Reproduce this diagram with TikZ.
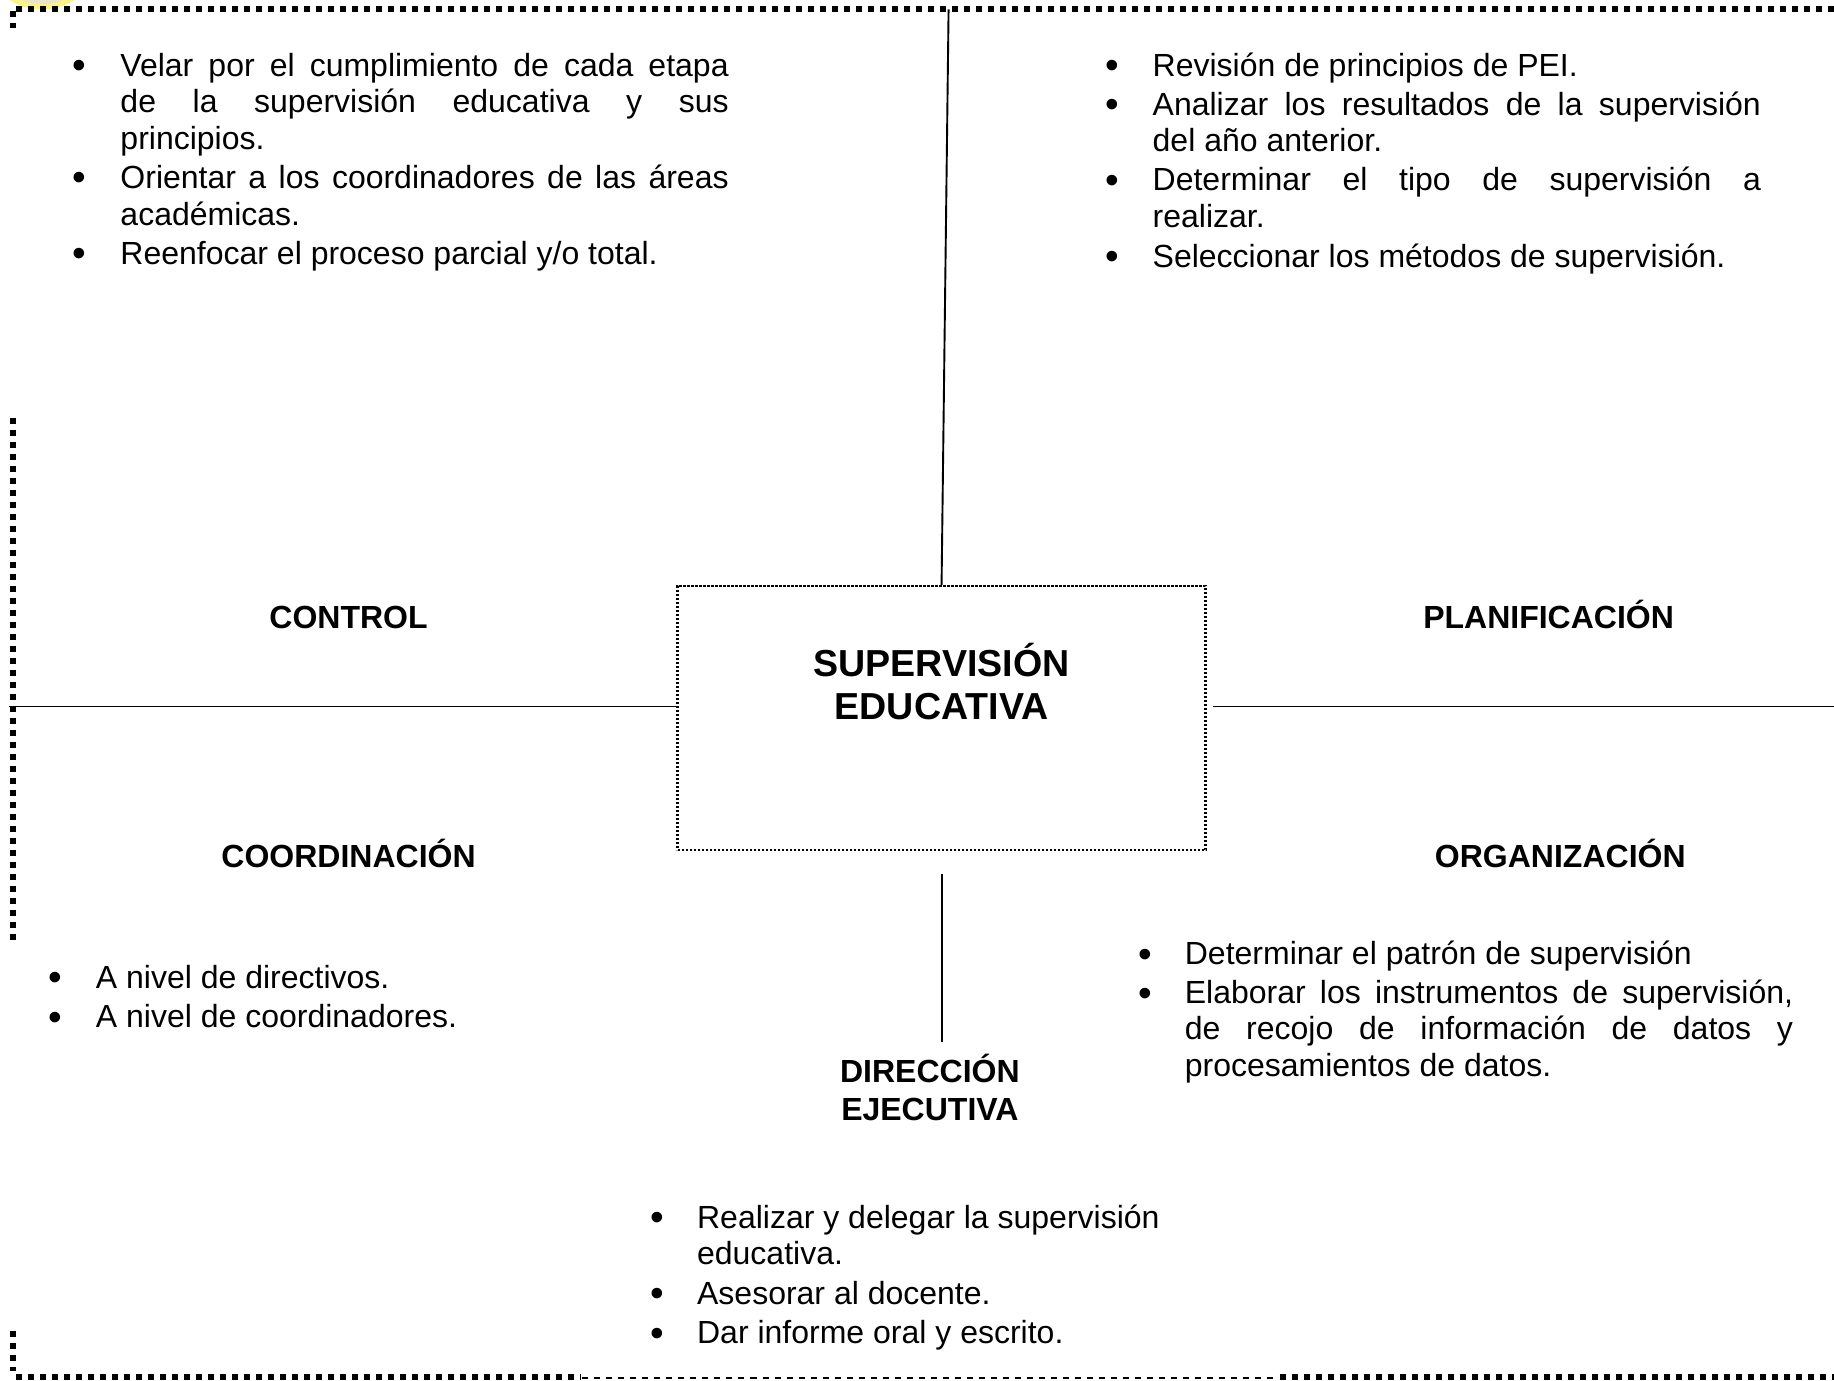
\documentclass[tikz,border=0pt]{standalone}
\usepackage{fontspec}
\setmainfont{Liberation Sans}
\newcommand{\jline}[2]{\makebox[#1][s]{#2}}
\newlength{\colw}
\definecolor{badgeglow}{RGB}{250,245,130}
\definecolor{badgeinner}{RGB}{235,228,200}
\tikzset{
  x=0.5848pt,y=-0.5848pt,
  bodytext/.style={anchor=base west,inner sep=0pt,outer sep=0pt,font=\fontsize{16}{18.4}\selectfont},
  dotmark/.style={anchor=base,inner sep=0pt,outer sep=0pt,yshift=-1.3pt,font=\fontsize{19.5}{19.5}\selectfont},
  heading/.style={anchor=base,inner sep=0pt,outer sep=0pt,align=center,font=\fontsize{16}{18.9}\selectfont\bfseries},
  titletext/.style={anchor=base,inner sep=0pt,outer sep=0pt,align=center,font=\fontsize{18.8}{21.6}\selectfont\bfseries},
  hub/.style={draw=black,line width=1.2pt,dash pattern=on 1.05pt off 0.95pt,inner sep=0pt,minimum width=264pt,minimum height=132pt},
  spoke/.style={draw=black,line width=0.95pt},
  thickdots/.style={draw=black,line width=2.9pt,dash pattern=on 3pt off 3pt},
  thindash/.style={draw=black,line width=1.2pt,dash pattern=on 3pt off 3pt},
}
\begin{document}
\begin{tikzpicture}
\useasboundingbox (0,0) rectangle (1568,1180);
\fill[white] (0,0) rectangle (1568,1180);
% yellow badge cut by the top edge
\begin{scope}
\clip (0,0) rectangle (1568,1180);
\fill[badgeglow] (36,-44) circle (52);
\fill[badgeinner] (36,-44) circle (47.5);
\end{scope}
% dotted frame
\coordinate (tl) at (11,8);
\coordinate (tr) at (1568,8);
\draw[thickdots] (14,8) -- (tr);
\draw[thickdots] (11,9) -- (11,24);
\draw[thickdots] (11,357) -- (11,805);
\draw[thickdots] (11,1138) -- (11,1172);
\draw[thickdots] (14,1177) -- (497,1177);
\draw[thindash] (498,1178) -- (1092,1178);
\draw[thickdots] (1094,1177) -- (1568,1177);
% centre
\node[hub] (centro) at (805,614) {};
\node[titletext] (titulo) at (805,615.5) {SUPERVISIÓN\\EDUCATIVA};
% spokes
\coordinate (arriba) at (811,8);
\coordinate (izq) at (8,604);
\coordinate (der) at (1568,604);
\coordinate (derb) at (1037,604);
\coordinate (abaja) at (805,747);
\coordinate (abajb) at (805,891);
\draw[spoke] (arriba) -- (centro.north);
\draw[spoke] (izq) -- (centro.west |- izq);
\draw[spoke] (derb) -- (der);
\draw[spoke] (abaja) -- (abajb);
% headings
\node[heading] (control) at (298,537) {CONTROL};
\node[heading] (plan) at (1324,537) {PLANIFICACIÓN};
\node[heading] (coord) at (298,742) {COORDINACIÓN};
\node[heading] (orga) at (1334,742) {ORGANIZACIÓN};
\node[heading] (dir) at (795,958) {DIRECCIÓN\\EJECUTIVA};
% control list
\setlength{\colw}{304.1pt}
\node[dotmark] (b1) at (68,65) {•};
\node[bodytext] (c1a) at (103,65) {\jline{\colw}{Velar por el cumplimiento de cada etapa}};
\node[bodytext] (c1b) at (103,96) {\jline{\colw}{de la supervisión educativa y sus}};
\node[bodytext] (c1c) at (103,128) {principios.};
\node[dotmark] (b2) at (68,161) {•};
\node[bodytext] (c2a) at (103,161) {\jline{\colw}{Orientar a los coordinadores de las áreas}};
\node[bodytext] (c2b) at (103,193) {académicas.};
\node[dotmark] (b3) at (68,226) {•};
\node[bodytext] (c3a) at (103,226) {Reenfocar el proceso parcial y/o total.};
% planning list
\node[dotmark] (b4) at (951,65) {•};
\node[bodytext] (p1) at (985.5,65) {Revisión de principios de PEI.};
\node[dotmark] (b5) at (951,98.5) {•};
\node[bodytext] (p2a) at (985.5,98.5) {\jline{\colw}{Analizar los resultados de la supervisión}};
\node[bodytext] (p2b) at (985.5,129.5) {del año anterior.};
\node[dotmark] (b6) at (951,163) {•};
\node[bodytext] (p3a) at (985.5,163) {\jline{\colw}{Determinar el tipo de supervisión a}};
\node[bodytext] (p3b) at (985.5,194.5) {realizar.};
\node[dotmark] (b7) at (951,228.5) {•};
\node[bodytext] (p4) at (985.5,228.5) {Seleccionar los métodos de supervisión.};
% coordination list
\node[dotmark] (b8) at (47,845) {•};
\node[bodytext] (k1) at (82,845) {A nivel de directivos.};
\node[dotmark] (b9) at (47,878.5) {•};
\node[bodytext] (k2) at (82,878.5) {A nivel de coordinadores.};
% organisation list
\node[dotmark] (b10) at (979,825) {•};
\node[bodytext] (o1) at (1013,825) {Determinar el patrón de supervisión};
\node[dotmark] (b11) at (979,858) {•};
\node[bodytext] (o2a) at (1013,858) {\jline{\colw}{Elaborar los instrumentos de supervisión,}};
\node[bodytext] (o2b) at (1013,889) {\jline{\colw}{de recojo de información de datos y}};
\node[bodytext] (o2c) at (1013,920) {procesamientos de datos.};
% direction list
\node[dotmark] (b12) at (562,1050) {•};
\node[bodytext] (d1a) at (596,1050) {Realizar y delegar la supervisión};
\node[bodytext] (d1b) at (596,1081) {educativa.};
\node[dotmark] (b13) at (562,1115) {•};
\node[bodytext] (d2) at (596,1115) {Asesorar al docente.};
\node[dotmark] (b14) at (562,1149) {•};
\node[bodytext] (d3) at (596,1149) {Dar informe oral y escrito.};
\end{tikzpicture}
\end{document}
